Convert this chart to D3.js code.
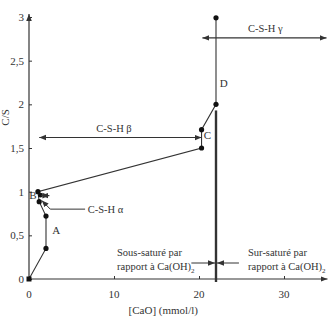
<!DOCTYPE html>
<html>
<head>
<meta charset="utf-8">
<script src="https://cdnjs.cloudflare.com/ajax/libs/d3/7.8.5/d3.min.js"></script>
<style>
  body { margin: 0; background: #fff; }
  svg text { font-family: "Liberation Serif", "DejaVu Serif", serif; }
</style>
</head>
<body>
<div id="chart"></div>
<script>
// data: [CaO] (mmol/l), C/S ratio
const curveX = [0, 2.0, 2.0, 1.2, 1.05, 20.3, 20.3, 22, 22];
const curveY = [0, 0.35, 0.72, 0.885, 1.0, 1.5, 1.71, 2.0, 2.99];
const xTicks = [0, 10, 20, 30];
const xTickLabels = ["0", "10", "20", "30"];
const yTicks = [0, 0.5, 1, 1.5, 2, 2.5, 3];
const yTickLabels = ["0", "0,5", "1", "1,5", "2", "2,5", "3"];
const saturationLimit = 22;      // Ca(OH)2 solubility
const limitTop = 1.93;
const betaRange = [1.2, 20.3], betaLevel = 1.62;
const gammaRange = [20.4, 35], gammaLevel = 2.76;
const pointLabels = [
  {name: "A", x: 3.2, y: 0.52},
  {name: "B", x: 0.45, y: 0.92},
  {name: "C", x: 21.0, y: 1.6},
  {name: "D", x: 22.9, y: 2.2}
];

const width = 331, height = 317;
const x = d3.scaleLinear().domain([0, 35]).range([29, 326.5]);
const y = d3.scaleLinear().domain([0, 3]).range([279, 17]);
const ink = "#333";
const serif = "'Liberation Serif', 'DejaVu Serif', serif";

const svg = d3.select("#chart").append("svg")
    .attr("width", width).attr("height", height)
    .style("display", "block");

const defs = svg.append("defs");
function marker(id, path) {
  defs.append("marker").attr("id", id)
      .attr("viewBox", "0 0 10 10").attr("refX", 10).attr("refY", 5)
      .attr("markerWidth", 7).attr("markerHeight", 7)
      .attr("markerUnits", "userSpaceOnUse")
      .attr("orient", "auto-start-reverse")
      .append("path").attr("d", path).attr("fill", ink);
}
marker("arrow", "M0,1 L10,5 L0,9 Z");

function label(xp, yp, str, size) {
  return svg.append("text").attr("x", xp).attr("y", yp)
      .attr("font-family", serif).attr("font-size", size || 11)
      .attr("fill", "#333").text(str);
}

// axes
const xAxis = svg.append("g").attr("transform", `translate(0,${y(0)})`)
    .call(d3.axisTop(x).tickValues(xTicks).tickSize(3).tickFormat(() => ""));
xAxis.select(".domain").remove();
xAxis.selectAll("line").attr("stroke", ink);
svg.append("line")
    .attr("x1", x(0)).attr("x2", x(35) + 1).attr("y1", y(0)).attr("y2", y(0))
    .attr("stroke", ink).attr("stroke-width", 1.2).attr("marker-end", "url(#arrow)");
xTicks.forEach((d, i) => label(x(d), y(0) + 19, xTickLabels[i]).attr("text-anchor", "middle"));

const yAxis = svg.append("g").attr("transform", `translate(${x(0)},0)`)
    .call(d3.axisRight(y).tickValues(yTicks).tickSize(3).tickFormat(() => ""));
yAxis.select(".domain").remove();
yAxis.selectAll("line").attr("stroke", ink);
svg.append("line")
    .attr("x1", x(0)).attr("x2", x(0)).attr("y1", y(0)).attr("y2", y(3) - 3)
    .attr("stroke", ink).attr("stroke-width", 1.2).attr("marker-end", "url(#arrow)");
yTicks.forEach((d, i) => label(x(0) - 5, y(d) + 4, yTickLabels[i]).attr("text-anchor", "end"));

label(0, 0, "C/S").attr("x", null).attr("y", null)
    .attr("transform", `translate(9,${y(1.85)}) rotate(-90)`).attr("text-anchor", "middle");
label(x(15.8), 314, "[CaO] (mmol/l)").attr("text-anchor", "middle");

// saturation limit
svg.append("line")
    .attr("x1", x(saturationLimit)).attr("x2", x(saturationLimit))
    .attr("y1", y(0) + 3).attr("y2", y(limitTop))
    .attr("stroke", ink).attr("stroke-width", 2.4);

// curve
const pts = curveX.map((d, i) => [d, curveY[i]]);
svg.append("path").datum(pts)
    .attr("d", d3.line().x(d => x(d[0])).y(d => y(d[1])))
    .attr("fill", "none").attr("stroke", ink).attr("stroke-width", 1.1);
svg.selectAll(".pt").data(pts.slice(1)).enter().append("circle")
    .attr("cx", d => x(d[0])).attr("cy", d => y(d[1])).attr("r", 2.6).attr("fill", "#111");
svg.append("rect").attr("x", x(0) - 2.5).attr("y", y(0) - 2.5)
    .attr("width", 5).attr("height", 5).attr("fill", "#111");
svg.append("circle").attr("cx", x(1.35)).attr("cy", y(0.96)).attr("r", 2.4).attr("fill", "#111");

pointLabels.forEach(d => label(x(d.x), y(d.y), d.name).attr("text-anchor", "middle"));

// domain arrows
function dblArrow(x1, x2, yv) {
  svg.append("line").attr("x1", x(x1)).attr("x2", x(x2)).attr("y1", y(yv)).attr("y2", y(yv))
      .attr("stroke", ink).attr("stroke-width", 1.2)
      .attr("marker-start", "url(#arrow)").attr("marker-end", "url(#arrow)");
}
dblArrow(betaRange[0], betaRange[1], betaLevel);
dblArrow(gammaRange[0], gammaRange[1], gammaLevel);
label(x(10), y(betaLevel) - 6, "C-S-H β", 10.5).attr("text-anchor", "middle");
label(x(27.8), y(gammaLevel) - 6, "C-S-H γ", 10.5).attr("text-anchor", "middle");

// alpha marker
dblArrow(1.45, 2.4, 0.955);
svg.append("polyline")
    .attr("points", [[x(6.6), y(0.8)], [x(2.5), y(0.8)], [x(1.5), y(0.9)]].map(p => p.join(",")).join(" "))
    .attr("fill", "none").attr("stroke", ink).attr("stroke-width", 1)
    .attr("marker-end", "url(#arrow)");
label(x(6.9), y(0.8) + 3.5, "C-S-H α", 10.5);

// saturation annotation
svg.append("line").attr("x1", x(19.1)).attr("x2", x(saturationLimit) - 1)
    .attr("y1", 263).attr("y2", 263).attr("stroke", ink).attr("marker-end", "url(#arrow)");
svg.append("line").attr("x1", x(24.7)).attr("x2", x(saturationLimit) + 1)
    .attr("y1", 263).attr("y2", 263).attr("stroke", ink).attr("marker-end", "url(#arrow)");
const left = label(null, null, null, 10.5);
left.append("tspan").attr("x", 117).attr("y", 256).text("Sous-saturé par");
left.append("tspan").attr("x", 117).attr("y", 270).text("rapport à Ca(OH)");
left.append("tspan").attr("dy", 3).attr("font-size", 7).text("2");
const right = label(null, null, null, 10.5);
right.append("tspan").attr("x", 248).attr("y", 256).text("Sur-saturé par");
right.append("tspan").attr("x", 248).attr("y", 270).text("rapport à Ca(OH)");
right.append("tspan").attr("dy", 3).attr("font-size", 7).text("2");
</script>
</body>
</html>
